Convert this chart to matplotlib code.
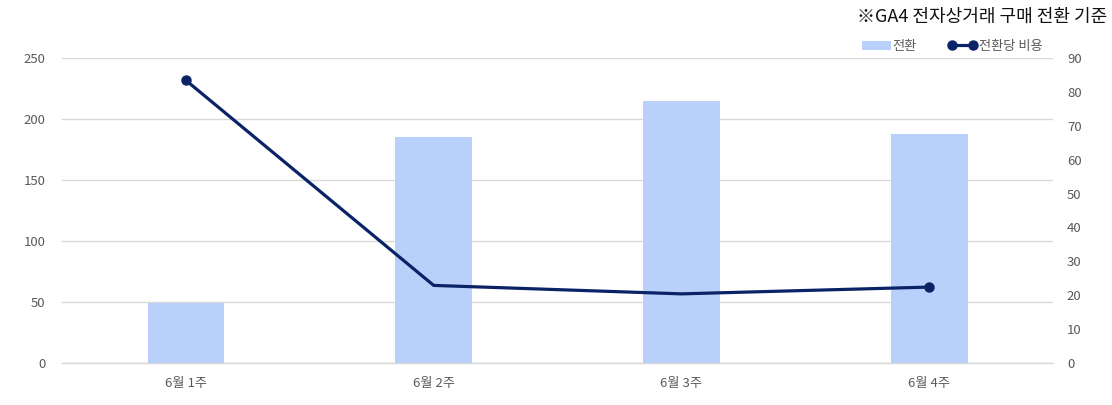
import numpy as np
import matplotlib.pyplot as plt

plt.rcParams['font.family'] = ['Noto Sans CJK KR', 'DejaVu Sans']

weeks = ['6월 1주', '6월 2주', '6월 3주', '6월 4주']
conversions = [49, 185, 215, 188]
cost_per_conv = [83.4, 22.9, 20.4, 22.4]

fig = plt.figure(figsize=(11.12, 4.05), dpi=100)
ax = fig.add_axes([0.0558, 0.1037, 0.8912, 0.7531])
ax2 = ax.twinx()

x = np.arange(len(weeks))
ax.bar(x, conversions, width=0.31, color='#B9D0FB', label='전환', zorder=2)
ax.set_ylim(0, 250)
ax.set_yticks(range(0, 251, 50))
ax.set_xlim(-0.5, len(weeks) - 0.5)
ax.set_xticks(x)
ax.set_xticklabels(weeks)
ax.grid(axis='y', color='#D9D9D9', linewidth=1, zorder=0)
ax.set_axisbelow(True)
ax.axhline(0, color='#D9D9D9', linewidth=1, zorder=1, clip_on=False)

ax2.plot(x, cost_per_conv, color='#0A2366', linewidth=2.3, marker='o',
         markersize=6.5, markevery=[0, len(x) - 1], label='전환당 비용', zorder=3)
ax2.set_ylim(0, 90)
ax2.set_yticks(range(0, 91, 10))

for a in (ax, ax2):
    for s in a.spines.values():
        s.set_visible(False)
    a.tick_params(length=0, labelsize=9.5, colors='#595959')
ax.tick_params(axis='x', pad=10)
ax.tick_params(axis='y', pad=12)
ax2.tick_params(axis='y', pad=10)

fig.text(0.996, 0.958, '※GA4 전자상거래 구매 전환 기준', ha='right', va='center',
         fontsize=13, color='#111111')

h1, l1 = ax.get_legend_handles_labels()
h2, l2 = ax2.get_legend_handles_labels()
fig.legend(h1 + h2, l1 + l2, loc='center right', bbox_to_anchor=(0.948, 0.885),
           ncol=2, frameon=False, fontsize=9.5, labelcolor='#595959',
           numpoints=2, handlelength=2.2, handletextpad=0.1, columnspacing=2.4)

fig.savefig('out.png', dpi=100)
